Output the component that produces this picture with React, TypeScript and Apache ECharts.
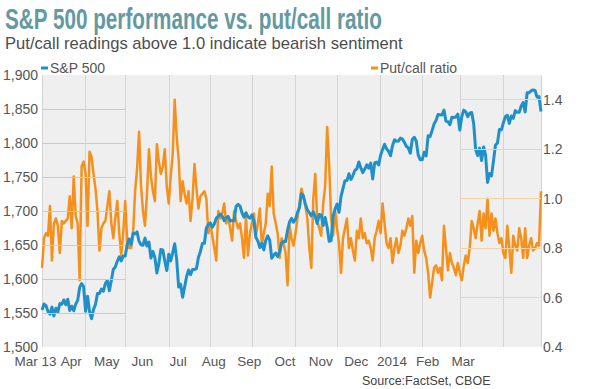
import React, { useEffect, useRef } from "react";
import * as echarts from "echarts";

// ---- data ----
const START = "2013-03-13";
const END = "2014-03-13";
const HOLIDAYS = [
  "2013-03-29", "2013-05-27", "2013-07-04", "2013-09-02", "2013-11-28",
  "2013-12-25", "2014-01-01", "2014-01-20", "2014-02-17",
];

function buildTradingDays(): string[] {
  const out: string[] = [];
  const d = new Date(START + "T00:00:00Z");
  const end = new Date(END + "T00:00:00Z");
  while (d.getTime() <= end.getTime()) {
    const wd = d.getUTCDay();
    const s = d.toISOString().slice(0, 10);
    if (wd !== 0 && wd !== 6 && HOLIDAYS.indexOf(s) < 0) out.push(s);
    d.setUTCDate(d.getUTCDate() + 1);
  }
  return out;
}
const dates = buildTradingDays();

// S&P 500 daily close
const spx = [
  // Mar 2013
  1554.5, 1563.2, 1560.7, 1552.1, 1548.3, 1558.7, 1545.8, 1556.9, 1551.7, 1563.8, 1562.9, 1569.2,
  // Apr
  1562.2, 1570.3, 1553.7, 1560.0, 1553.3, 1563.1, 1568.6, 1587.7, 1593.4, 1588.9, 1552.4, 1574.6,
  1552.0, 1541.6, 1555.3, 1562.5, 1578.8, 1578.8, 1585.2, 1582.2, 1593.6, 1597.6,
  // May
  1582.7, 1597.6, 1614.4, 1617.5, 1626.0, 1632.7, 1626.7, 1633.7, 1633.8, 1650.3, 1658.8, 1650.5,
  1667.5, 1666.3, 1669.2, 1655.4, 1650.3, 1649.6, 1660.1, 1648.4, 1654.4, 1630.7,
  // Jun
  1640.4, 1631.4, 1608.9, 1622.6, 1643.4, 1642.8, 1626.1, 1612.5, 1636.4, 1626.7, 1639.0, 1651.8,
  1628.9, 1588.2, 1592.4, 1573.1, 1588.0, 1603.3, 1613.2, 1606.3,
  // Jul
  1614.1, 1614.1, 1615.4, 1631.9, 1640.5, 1652.3, 1652.6, 1675.0, 1680.2, 1682.5, 1676.3, 1680.9,
  1689.4, 1692.1, 1695.5, 1692.4, 1685.9, 1690.3, 1691.7, 1685.3, 1686.0, 1685.7,
  // Aug
  1706.9, 1709.7, 1707.1, 1697.4, 1690.9, 1697.5, 1691.4, 1689.5, 1694.2, 1685.4, 1661.3, 1655.8,
  1646.1, 1652.4, 1642.8, 1657.0, 1663.5, 1656.8, 1630.5, 1635.0, 1638.2, 1633.0,
  // Sep
  1639.8, 1653.1, 1655.1, 1655.2, 1671.7, 1684.0, 1689.1, 1683.4, 1688.0, 1697.6, 1704.8, 1725.5,
  1722.3, 1709.9, 1701.8, 1697.4, 1692.8, 1698.7, 1691.8, 1681.6,
  // Oct
  1695.0, 1693.9, 1678.7, 1690.5, 1676.1, 1655.5, 1656.4, 1692.6, 1703.2, 1710.1, 1698.1, 1721.5,
  1733.2, 1744.5, 1744.7, 1754.7, 1746.4, 1752.1, 1759.8, 1762.1, 1772.0, 1763.3, 1756.5,
  // Nov
  1761.6, 1767.9, 1763.0, 1770.5, 1747.2, 1770.6, 1771.9, 1767.7, 1782.0, 1790.6, 1798.2, 1791.5,
  1787.9, 1781.4, 1795.9, 1804.8, 1802.5, 1802.8, 1807.2, 1805.8,
  // Dec
  1800.9, 1795.2, 1792.8, 1785.0, 1805.1, 1808.4, 1802.6, 1782.2, 1775.5, 1775.3, 1786.5, 1781.0,
  1810.7, 1809.6, 1818.3, 1828.0, 1833.3, 1842.0, 1841.4, 1841.1, 1848.4,
  // Jan 2014
  1832.0, 1831.4, 1826.8, 1837.9, 1837.5, 1838.1, 1842.4, 1819.2, 1838.9, 1848.4, 1845.9, 1838.7,
  1843.8, 1844.9, 1828.5, 1790.3, 1781.6, 1792.5, 1774.2, 1794.2, 1782.6,
  // Feb
  1741.9, 1755.2, 1751.6, 1773.4, 1797.0, 1799.8, 1819.8, 1819.3, 1829.8, 1838.6, 1840.8, 1828.8,
  1839.8, 1836.3, 1847.6, 1845.1, 1845.2, 1854.3, 1859.5,
  // Mar 2014
  1845.7, 1873.9, 1873.8, 1877.0, 1878.0, 1877.2, 1867.6, 1868.2, 1846.3,
];

// CBOE put/call ratio (daily)
const putCall = [
  0.72, 0.84, 0.86, 0.85, 0.97, 0.75, 0.90, 0.92, 0.89, 0.78,
  0.91, 0.90, 0.91, 0.92, 1.01, 0.88, 1.09, 0.93, 0.90, 0.67,
  1.13, 1.15, 1.10, 0.89, 1.19, 1.17, 1.10, 1.04, 0.95, 0.79,
  0.88, 0.90, 0.91, 0.97, 1.03, 0.90, 0.84, 0.92, 0.99, 0.86,
  0.77, 0.86, 0.99, 0.83, 0.80,
  0.80, 0.86, 1.03, 1.12, 1.27, 1.05, 0.95, 0.89, 1.02, 1.20,
  1.09, 1.03, 0.99, 1.22, 1.15, 1.10, 1.13, 1.20, 1.05, 0.98,
  1.09, 1.18, 1.40, 1.25, 1.16, 0.99, 1.07, 1.02, 0.98, 1.03,
  0.91, 1.00, 1.14, 1.04, 0.96, 1.01, 1.02, 1.03, 1.00, 0.86,
  0.90, 0.85, 0.80, 0.75, 0.95, 0.92, 0.94, 0.98, 0.90, 0.93,
  0.88,
  0.83, 0.95, 0.91, 0.88, 0.90, 0.84, 0.76, 0.93, 0.77, 0.86,
  0.90, 0.94, 0.85, 0.90, 0.96, 0.81, 0.86, 0.90, 1.02, 0.97,
  1.13, 0.94, 0.90, 0.86, 0.76, 0.84, 0.82, 0.78, 0.65, 0.89,
  0.84, 0.81, 0.86, 0.92, 0.98, 1.04, 1.01, 0.97, 0.92, 0.80,
  0.72, 1.00, 1.10, 0.91, 0.88, 0.85, 0.98, 1.05, 1.29, 1.14,
  0.92, 0.85, 0.95, 0.88, 0.82, 0.70, 0.84, 0.88, 0.92, 0.80,
  0.84, 0.79, 0.75, 0.87, 0.84, 0.92, 0.84, 0.86, 0.82, 0.83,
  0.80, 0.75, 0.84, 0.87, 0.91,
  0.86, 0.98, 0.90, 0.82, 0.80, 0.84, 0.74, 0.80, 0.84, 0.78,
  0.81, 0.87, 0.85, 0.88, 0.92, 0.89, 0.93, 0.70, 0.83, 0.78,
  0.82, 0.85, 0.79, 0.76, 0.70, 0.60, 0.66, 0.72, 0.73, 0.70,
  0.72, 0.67, 0.89, 0.80, 0.71, 0.78, 0.74, 0.72, 0.69, 0.74,
  0.70, 0.67, 0.73, 0.77, 0.74, 0.80, 0.91, 0.88, 0.84, 0.90,
  0.95, 0.83, 0.94, 0.88, 1.00, 0.85, 0.94, 0.87, 0.92, 0.86,
  0.82, 0.84, 0.78, 0.76, 0.89, 0.80, 0.70, 0.85, 0.81, 0.79,
  0.88, 0.84, 0.76, 0.88, 0.76, 0.81, 0.84, 0.79, 0.80, 0.82,
  0.81, 1.03,
];

const xTickLabels = ["Mar 13", "Apr", "May", "Jun", "Jul", "Aug", "Sep", "Oct", "Nov", "Dec", "2014", "Feb", "Mar", "", ""];
const leftGridValues = [1550, 1600, 1650, 1700, 1750, 1800, 1850];
const rightGridValues = [0.6, 0.8, 1.0, 1.2, 1.4];
const leftGridEnd = "2013-05-13";
const rightGridStart = "2014-01-13";

const TITLE = "S&P 500 performance vs. put/call ratio";
const SUBTITLE = "Put/call readings above 1.0 indicate bearish sentiment";
const SOURCE = "Source:FactSet, CBOE";

const SANS = "'Liberation Sans', Arial, sans-serif";

// vertical lines at monthly anniversaries (13th) of the start date
function monthlyMarks(ds: string[]): boolean[] {
  return ds.map((s, i) => {
    if (i === 0 || i === ds.length - 1) return true;
    const m = +s.slice(5, 7), d = +s.slice(8, 10);
    const p = ds[i - 1];
    const pm = +p.slice(5, 7), pd = +p.slice(8, 10);
    return d >= 13 && (pm !== m || pd < 13);
  });
}

export default function App() {
  const ref = useRef<HTMLDivElement>(null);
  useEffect(() => {
    if (!ref.current) return;
    const chart = echarts.init(ref.current, undefined, { renderer: "svg" });
    const marks = monthlyMarks(dates);
    const last = dates[dates.length - 1];
    const option: any = {
      animation: false,
      backgroundColor: "#ffffff",
      grid: {
        left: 39, top: 75, width: 502, height: 272,
        show: true, backgroundColor: "#efefef", borderWidth: 0,
      },
      legend: [
        {
          data: ["S&P 500"], left: 36, top: 56, icon: "rect", itemWidth: 7, itemHeight: 3,
          selectedMode: false, textStyle: { color: "#555", fontSize: 14, fontFamily: SANS, padding: [0, 0, 0, -3] },
        },
        {
          data: ["Put/call ratio"], left: 366, top: 56, icon: "rect", itemWidth: 7, itemHeight: 3,
          selectedMode: false, textStyle: { color: "#555", fontSize: 14, fontFamily: SANS, padding: [0, 0, 0, -3] },
        },
      ],
      xAxis: [
        {
          type: "category", data: dates, boundaryGap: false,
          axisLine: { show: false }, axisTick: { show: false }, axisLabel: { show: false },
          splitLine: { show: true, interval: (i: number) => marks[i], lineStyle: { color: "#d4d4d4", width: 1 } },
        },
        {
          type: "category", data: xTickLabels, boundaryGap: false, position: "bottom",
          axisLine: { show: false }, axisTick: { show: false }, splitLine: { show: false },
          axisLabel: {
            interval: 0, color: "#555", fontSize: 13.5, fontFamily: SANS, margin: 7,
            padding: [0, 13, 0, 0],
          },
        },
      ],
      yAxis: [
        {
          type: "value", position: "left", min: 1500, max: 1900, interval: 50,
          axisLine: { show: false }, axisTick: { show: false }, splitLine: { show: false },
          axisLabel: {
            color: "#555", fontSize: 14, fontFamily: SANS, margin: 4,
            formatter: (v: number) => v.toLocaleString("en-US"),
          },
        },
        {
          type: "value", position: "right", min: 0.4, max: 1.5, interval: 0.2,
          axisLine: { show: false }, axisTick: { show: false }, splitLine: { show: false },
          axisLabel: {
            color: "#555", fontSize: 14, fontFamily: SANS, margin: 2, showMaxLabel: false,
            formatter: (v: number) => v.toFixed(1),
          },
        },
      ],
      series: [
        {
          type: "line", name: "_gl", data: [], yAxisIndex: 0, z: 1, silent: true,
          markLine: {
            silent: true, symbol: ["none", "none"], label: { show: false },
            lineStyle: { color: "#a6d6ea", width: 1, type: "solid" },
            data: leftGridValues.map((v) => [{ coord: [dates[0], v] }, { coord: [leftGridEnd, v] }]),
          },
        },
        {
          type: "line", name: "_gr", data: [], yAxisIndex: 1, z: 1, silent: true,
          markLine: {
            silent: true, symbol: ["none", "none"], label: { show: false },
            lineStyle: { color: "#f3d3a4", width: 1, type: "solid" },
            data: rightGridValues.map((v) => [{ coord: [rightGridStart, v] }, { coord: [last, v] }]),
          },
        },
        {
          type: "line", name: "Put/call ratio", data: putCall, yAxisIndex: 1, z: 2,
          showSymbol: false, symbol: "none",
          itemStyle: { color: "#f5901c" },
          lineStyle: { color: "#f5901c", width: 2.5, join: "round" },
        },
        {
          type: "line", name: "S&P 500", data: spx, yAxisIndex: 0, z: 3,
          showSymbol: false, symbol: "none",
          itemStyle: { color: "#2190c8" },
          lineStyle: { color: "#2190c8", width: 3, join: "round" },
        },
      ],
      graphic: [
        {
          type: "text", x: 5, y: 4, scaleX: 0.69,
          style: { text: TITLE, fill: "#6399a1", fontSize: 30, fontWeight: "bold", fontFamily: SANS, verticalAlign: "top" },
        },
        {
          type: "text", x: 5, y: 35,
          style: { text: SUBTITLE, fill: "#4d4d4d", fontSize: 16.6, fontFamily: SANS, verticalAlign: "top" },
        },
        {
          type: "text", x: 362, y: 374,
          style: { text: SOURCE, fill: "#444", fontSize: 12.5, fontFamily: SANS, verticalAlign: "top" },
        },
      ],
    };
    chart.setOption(option);
    return () => chart.dispose();
  }, []);
  return (
    <div
      ref={ref}
      style={{ position: "fixed", left: 0, top: 0, width: 612, height: 389, background: "#fff" }}
    />
  );
}
